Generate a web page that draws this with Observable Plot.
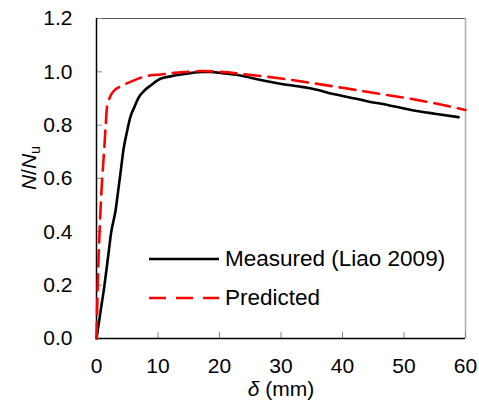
<!DOCTYPE html>
<html><head><meta charset="utf-8">
<script src="https://cdn.jsdelivr.net/npm/d3@7"></script>
<script src="https://cdn.jsdelivr.net/npm/@observablehq/plot@0.6"></script>
<style>
body{margin:0;background:#fff;}
#wrap{position:relative;width:479px;height:401px;font-family:"Liberation Sans",Arial,sans-serif;}
.ov{position:absolute;white-space:nowrap;color:#000;line-height:1;}
</style></head><body><div id="wrap"></div>
<script>
const measuredX = [0, 0.65, 1.3, 1.85, 2.4, 3.1, 3.5, 3.9, 4.4, 5.0, 5.5, 6.2, 6.9, 7.8, 8.8, 10.4, 12.0, 13.7, 15.5, 17.2, 18.5, 20.5, 23.4, 26.5, 29.9, 33.0, 35.3, 38.5, 41.0, 44.0, 47.5, 51.6, 55.0, 58.9];
const measuredY = [0, 0.1, 0.2, 0.3, 0.4, 0.48, 0.55, 0.62, 0.71, 0.78, 0.83, 0.87, 0.905, 0.93, 0.949, 0.974, 0.983, 0.99, 0.996, 1.0, 1.0, 0.995, 0.986, 0.97, 0.955, 0.945, 0.936, 0.917, 0.905, 0.89, 0.875, 0.855, 0.843, 0.83];
const predictedX = [0, 0.2, 0.5, 0.9, 1.2, 1.5, 1.7, 2.0, 2.3, 2.8, 3.6, 4.5, 6.0, 7.5, 8.8, 10.4, 12.5, 15.0, 17.2, 20.0, 24.5, 30.0, 35.3, 40.0, 46.2, 50.0, 55.0, 60.0];
const predictedY = [0, 0.2, 0.4, 0.59, 0.69, 0.8, 0.867, 0.893, 0.911, 0.928, 0.942, 0.952, 0.967, 0.98, 0.987, 0.99, 0.996, 1.0, 1.003, 1.0, 0.99, 0.975, 0.957, 0.94, 0.917, 0.903, 0.882, 0.857];
const xTicks = [0, 10, 20, 30, 40, 50, 60];
const yTicks = [0, 0.2, 0.4, 0.6, 0.8, 1.0, 1.2];
const seriesNames = ["Measured (Liao 2009)", "Predicted"];
const xDomain = [0, 60];
const yDomain = [0, 1.2];

const measured = measuredX.map((x, i) => ({x, y: measuredY[i]}));
const predicted = predictedX.map((x, i) => ({x, y: predictedY[i]}));

const chart = Plot.plot({
  width: 479, height: 401,
  marginLeft: 96, marginRight: 14, marginTop: 18, marginBottom: 63,
  style: {fontFamily: "'Liberation Sans', Arial, sans-serif", fontSize: "21px", background: "#fff", color: "#000"},
  x: {domain: xDomain, axis: null},
  y: {domain: yDomain, axis: null},
  marks: [
    Plot.ruleY([yDomain[1]], {stroke: "#555", strokeWidth: 1.2}),
    Plot.ruleX([xDomain[1]], {stroke: "#aaa", strokeWidth: 1.5}),
    Plot.axisX(xTicks, {tickSize: -6, tickFormat: () => "", stroke: "#888", label: null}),
    Plot.axisY(yTicks, {tickSize: -6, tickFormat: () => "", stroke: "#888", label: null}),
    Plot.axisX(xTicks, {tickSize: 0, tickPadding: 20, fontSize: 21, label: null}),
    Plot.axisY(yTicks, {tickSize: 0, tickPadding: 24, fontSize: 21, tickFormat: d3.format(".1f"), label: null}),
    Plot.ruleX([xDomain[0]], {stroke: "#000", strokeWidth: 1.5}),
    Plot.ruleY([yDomain[0]], {stroke: "#000", strokeWidth: 1.5}),
    Plot.line(measured, {x: "x", y: "y", stroke: "#000", strokeWidth: 2.6, curve: "monotone-x"}),
    Plot.line(predicted, {x: "x", y: "y", stroke: "#ff0000", strokeWidth: 2.6, strokeDasharray: "16,8", curve: "monotone-x"})
  ]
});
const wrap = document.getElementById("wrap");
wrap.appendChild(chart);

// axis titles
const yl = document.createElement("div");
yl.className = "ov";
yl.style.cssText += "font-size:21px;left:28px;top:168px;transform:translate(-50%,-50%) rotate(-90deg);";
yl.innerHTML = '<i>N</i>/<i>N</i><span style="font-size:0.68em;position:relative;top:0.3em;">u</span>';
wrap.appendChild(yl);

const xl = document.createElement("div");
xl.className = "ov";
xl.style.cssText += "font-size:21px;left:281px;top:378px;transform:translateX(-50%);";
xl.innerHTML = '<i>δ</i> (mm)';
wrap.appendChild(xl);

// legend
const legendStyles = [
  {stroke: "#000", dash: null, top: 259},
  {stroke: "#ff0000", dash: "17,10", top: 298}
];
seriesNames.forEach((name, i) => {
  const s = legendStyles[i];
  const sw = document.createElementNS("http://www.w3.org/2000/svg", "svg");
  sw.setAttribute("width", 70); sw.setAttribute("height", 6);
  sw.style.cssText = `position:absolute;left:149px;top:${s.top - 3}px;`;
  const ln = document.createElementNS("http://www.w3.org/2000/svg", "line");
  ln.setAttribute("x1", 0); ln.setAttribute("x2", 70); ln.setAttribute("y1", 3); ln.setAttribute("y2", 3);
  ln.setAttribute("stroke", s.stroke); ln.setAttribute("stroke-width", 2.6);
  if (s.dash) ln.setAttribute("stroke-dasharray", s.dash);
  sw.appendChild(ln);
  wrap.appendChild(sw);
  const t = document.createElement("div");
  t.className = "ov";
  t.style.cssText += `font-size:22.5px;left:225px;top:${s.top - 11}px;`;
  t.textContent = name;
  wrap.appendChild(t);
});
</script>
</body></html>
